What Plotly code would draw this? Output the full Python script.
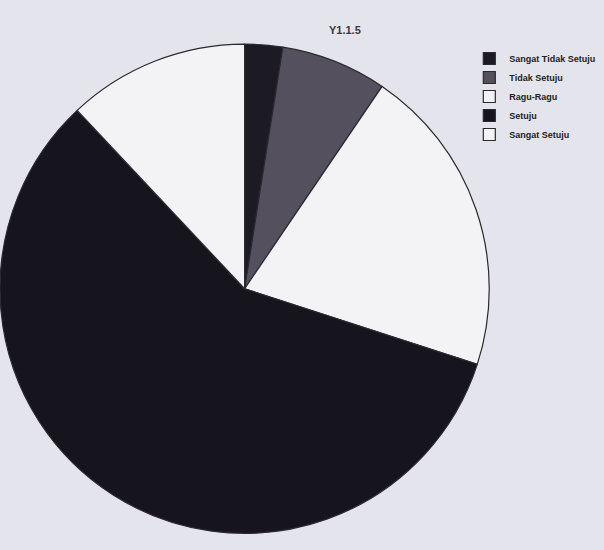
import plotly.graph_objects as go

labels = ["Sangat Tidak Setuju", "Tidak Setuju", "Ragu-Ragu", "Setuju", "Sangat Setuju"]
values = [2.5, 7, 20.5, 58, 12]
colors = ["#1c1b24", "#55505e", "#f3f3f6", "#16151d", "#f3f3f6"]

fig = go.Figure(go.Pie(
    labels=labels,
    values=values,
    sort=False,
    direction="clockwise",
    rotation=0,
    textinfo="none",
    hoverinfo="label+percent",
    marker=dict(colors=colors, line=dict(color="#2a2830", width=1.2)),
    domain=dict(x=[0.0, 0.81], y=[0.02, 0.93]),
))

fig.update_layout(
    width=604, height=550,
    margin=dict(l=0, r=0, t=0, b=0),
    paper_bgcolor="#e4e4ec",
    plot_bgcolor="#e4e4ec",
    title=dict(text="<b>Y1.1.5</b>", x=0.571, xanchor="center", y=0.945, yanchor="middle",
               font=dict(family="Liberation Sans, Arial", size=11, color="#3a3840")),
    legend=dict(x=0.777, y=0.92, xanchor="left", yanchor="top",
                bgcolor="rgba(0,0,0,0)",
                font=dict(family="Liberation Sans, Arial", size=9, color="#222", weight="bold"),
                itemwidth=30, tracegroupgap=0),
    showlegend=True,
)

fig.write_html("out.html", config={"displayModeBar": False},
               post_script="document.body.style.margin='0';document.body.style.background='#e4e4ec';")
